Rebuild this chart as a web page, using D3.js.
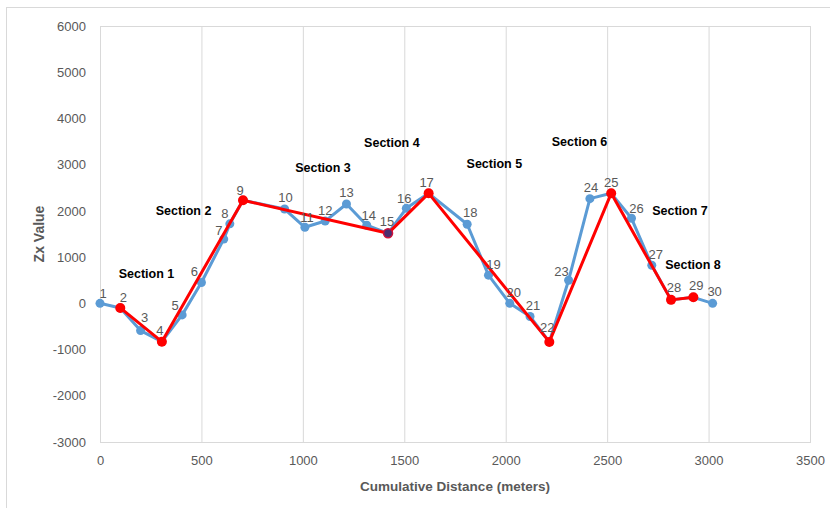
<!DOCTYPE html>
<html><head><meta charset="utf-8">
<script src="https://cdn.jsdelivr.net/npm/d3@7"></script>
<style>body{margin:0;background:#fff}svg{display:block}</style>
</head><body>
<script>
// ---- data ----
const pointIds = d3.range(1, 31);
const distance = [0,100,200,305,405,500,610,640,705,910,1010,1110,1215,1315,1420,1510,1620,1810,1915,2020,2120,2215,2310,2415,2520,2620,2720,2815,2925,3020];
const zxValue  = [0,-100,-590,-830,-250,450,1390,1720,2230,2040,1645,1780,2150,1690,1515,2055,2380,1710,610,0,-285,-835,500,2265,2380,1840,825,75,130,0];
const sectionPointIds = [2,4,9,15,17,22,25,28,29];
const sectionNames = ["Section 1","Section 2","Section 3","Section 4","Section 5","Section 6","Section 7","Section 8"];
const sectionLabelX = [229,412,1099,1439,1944,2364,2859,2923];
const sectionLabelY = [635,2004,2927,3475,3016,3490,2004,836];
const xTicks = [0,500,1000,1500,2000,2500,3000,3500];
const yTicks = [-3000,-2000,-1000,0,1000,2000,3000,4000,5000,6000];
// label nudges (style)
const labelDx = [3,3,4,-2,-7,-7,-5,-5,-3,1,2,0,0,2,-1,-2,-2,3,5,4,3,-2,-7,1,0,5,4,3,3,2];
const labelDy = [-10,-10,-13,-11,-9,-11,-9,-10,-10,-12,-10,-11,-11,-10,-12,-10,-11,-12,-11,-11,-11,-14,-9,-11,-11,-10,-11,-12,-12,-12];

const W = 830, H = 508;
const m = {left:100, top:26, right:810, bottom:442};
const FONT = "'Liberation Sans', Arial, sans-serif";
const TXT = "#595959";

const svg = d3.select("body").append("svg").attr("width", W).attr("height", H);
svg.append("rect").attr("x",6.5).attr("y",7.5).attr("width",840).attr("height",520)
  .attr("fill","#fff").attr("stroke","#d9d9d9");

const x = d3.scaleLinear().domain([0,3500]).range([m.left, m.right]);
const y = d3.scaleLinear().domain([-3000,6000]).range([m.bottom, m.top]);

// gridlines
svg.append("g").selectAll("line").data(xTicks.slice(1)).join("line")
  .attr("x1", d=>x(d)+0.5).attr("x2", d=>x(d)+0.5)
  .attr("y1", m.top).attr("y2", m.bottom)
  .attr("stroke","#d9d9d9").attr("stroke-width",1);
svg.append("rect").attr("x",m.left+0.5).attr("y",m.top+0.5)
  .attr("width",m.right-m.left).attr("height",m.bottom-m.top)
  .attr("fill","none").attr("stroke","#d9d9d9");

// axes
const fmt = d => String(d);
const xAxis = svg.append("g").attr("transform",`translate(0,${m.bottom})`)
  .call(d3.axisBottom(x).tickValues(xTicks).tickSize(0).tickPadding(14).tickFormat(fmt));
const yAxis = svg.append("g").attr("transform",`translate(${m.left},0)`)
  .call(d3.axisLeft(y).tickValues(yTicks).tickSize(0).tickPadding(14).tickFormat(fmt));
[xAxis,yAxis].forEach(a=>{
  a.select(".domain").remove();
  a.selectAll("text").attr("fill",TXT).style("font-family",FONT).style("font-size","13px");
});

// titles
svg.append("text").attr("x",455).attr("y",491).attr("text-anchor","middle")
  .attr("fill",TXT).style("font-family",FONT).style("font-size","13.5px").style("font-weight","bold")
  .text("Cumulative Distance (meters)");
svg.append("text").attr("transform","translate(44,234) rotate(-90)").attr("text-anchor","middle")
  .attr("fill",TXT).style("font-family",FONT).style("font-size","14px").style("font-weight","bold")
  .text("Zx Value");

const pts = pointIds.map((id,i)=>({id, d:distance[i], v:zxValue[i], i}));
const line = d3.line().x(p=>x(p.d)).y(p=>y(p.v));

// blue series
svg.append("path").datum(pts).attr("d",line).attr("fill","none")
  .attr("stroke","#5b9bd5").attr("stroke-width",3).attr("stroke-linejoin","round");
svg.append("g").selectAll("circle").data(pts).join("circle")
  .attr("cx",p=>x(p.d)).attr("cy",p=>y(p.v)).attr("r",4.5).attr("fill","#5b9bd5");

// red series
const redPts = sectionPointIds.map(id=>pts[id-1]);
svg.append("path").datum(redPts).attr("d",line).attr("fill","none")
  .attr("stroke","#ff0000").attr("stroke-width",3).attr("stroke-linejoin","round");
svg.append("g").selectAll("circle").data(redPts).join("circle")
  .attr("cx",p=>x(p.d)).attr("cy",p=>y(p.v)).attr("r",p=>p.id===15?4.5:5)
  .attr("fill",p=>p.id===15?"#4b2d6e":"#ff0000")
  .attr("stroke",p=>p.id===15?"#d0103a":"none").attr("stroke-width",1.5);

// point labels
svg.append("g").selectAll("text").data(pts).join("text")
  .attr("x",p=>x(p.d)+labelDx[p.i]).attr("y",p=>y(p.v)+labelDy[p.i])
  .attr("text-anchor","middle").attr("dominant-baseline","central")
  .attr("fill",TXT).style("font-family",FONT).style("font-size","13px")
  .text(p=>p.id);

// section labels
svg.append("g").selectAll("text").data(sectionNames).join("text")
  .attr("x",(d,i)=>x(sectionLabelX[i])).attr("y",(d,i)=>y(sectionLabelY[i]))
  .attr("text-anchor","middle").attr("dominant-baseline","central")
  .attr("fill","#000").style("font-family",FONT).style("font-size","12.5px").style("font-weight","bold")
  .text(d=>d);
</script>
</body></html>
